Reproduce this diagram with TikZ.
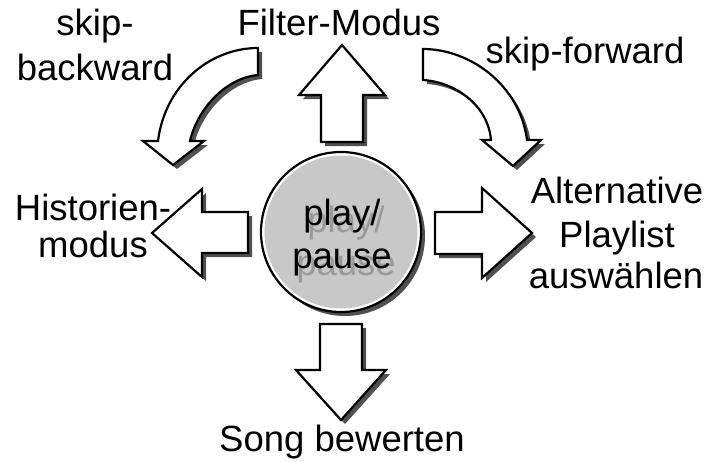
\documentclass[tikz,border=0pt]{standalone}
\usepackage{fontspec}
\setmainfont{Liberation Sans}
\definecolor{shd}{HTML}{505050}
\definecolor{disc}{HTML}{C8C8C8}
\definecolor{tshd}{HTML}{9A9A9A}
\newcommand\withshadow[1]{%
  \begin{scope}[shift={(4,4)}]\fill[shd] #1;\end{scope}%
  \draw[shp] #1;}
\begin{document}
\begin{tikzpicture}[x=1pt,y=-1pt,
  lbl/.style={inner sep=0pt, anchor=base, font=\fontsize{36.5}{40}\selectfont},
  shp/.style={fill=white, draw=black, line width=2.2pt, line join=miter}]
\useasboundingbox (0,0) rectangle (709,461);

% straight arrows
\withshadow{(321,142) -- (321,95) -- (299,95) -- (342,45) -- (385,95) -- (363,95) -- (363,142) -- cycle}
\withshadow{(320,324) -- (320,370) -- (296,370) -- (341,420) -- (386,370) -- (362,370) -- (362,324) -- cycle}
\withshadow{(248,212) -- (202,212) -- (202,189) -- (152,233) -- (202,277) -- (202,253) -- (248,253) -- cycle}
\withshadow{(435,212) -- (482,212) -- (482,188) -- (532,233) -- (482,278) -- (482,254) -- (435,254) -- cycle}

% curved arrows
\withshadow{(258,48) .. controls (210,48) and (165,85) .. (158,141) -- (143,141) -- (173,165) -- (204,141) -- (190,141) .. controls (197,110) and (225,78) .. (258,75) -- cycle}
\withshadow{(423,49) .. controls (470,49) and (520,85) .. (527,140) -- (541,140) -- (513,166) -- (482,140) -- (491,140) .. controls (488,105) and (455,82) .. (423,80) -- cycle}

% central disc
\fill[shd] (345,236) circle[radius=80];
\node[circle, fill=white, draw=black, line width=2.2pt, minimum size=160pt, inner sep=0pt] (play) at (341,232) {};
\fill[disc] (play.center) circle[radius=76.5];
\node[lbl, text=tshd] (playS) at (346,232) {play/};
\node[lbl, text=tshd] (pauseS) at (346,275) {pause};
\node[lbl] (playT) at (342,225) {play/};
\node[lbl] (pauseT) at (342,268) {pause};

% labels
\node[lbl] (sb1) at (95,35) {skip-};
\node[lbl] (sb2) at (95,80) {backward};
\node[lbl] (filter) at (339,35) {Filter-Modus};
\node[lbl] (sf) at (585,63) {skip-forward};
\node[lbl] (hist1) at (93,220) {Historien-};
\node[lbl] (hist2) at (93,257) {modus};
\node[lbl] (alt1) at (617,203) {Alternative};
\node[lbl] (alt2) at (617,247) {Playlist};
\node[lbl] (alt3) at (616,288) {auswählen};
\node[lbl] (song) at (342,451) {Song bewerten};
\end{tikzpicture}
\end{document}
